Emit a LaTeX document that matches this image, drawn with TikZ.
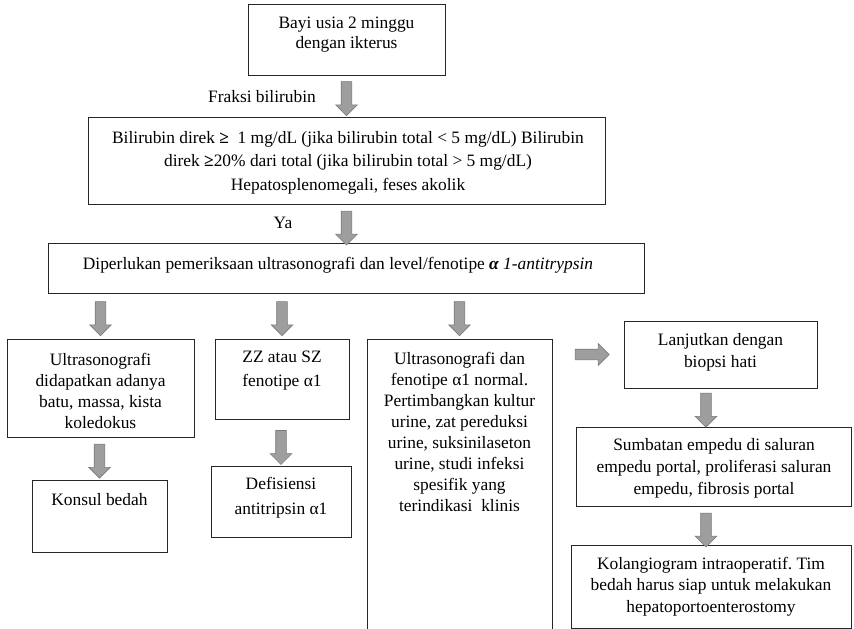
\documentclass[tikz,border=0pt]{standalone}
\usepackage{fontspec}
\setmainfont{Liberation Serif}
\usetikzlibrary{shapes.arrows,calc}

\tikzset{
  box/.style={draw=black!85, line width=0.9bp, inner sep=0pt},
  txt/.style={font=\fontsize{17.4bp}{#1}\selectfont\frenchspacing, align=center, inner sep=0pt},
  txt/.default=22bp,
  blockarrow/.style={single arrow, single arrow head extend=5.5bp,
    single arrow head indent=0pt, minimum height=34bp,
    inner sep=0pt, fill=black!38, draw=black!52, line width=0.6bp,
    sloped, allow upside down}
}
% shaft thickness of the block arrows
\newcommand{\shaft}{\rule{0pt}{10bp}}

\begin{document}
\begin{tikzpicture}[x=1bp, y=-1bp]
\useasboundingbox (0,0) rectangle (854,629);
\clip (0,0) rectangle (854,629);

% boxes
\node[box, minimum width=197bp, minimum height=71bp] (b1) at (346.5,39.5) {};
\node[box, minimum width=517bp, minimum height=87bp] (b2) at (346.5,160.5) {};
\node[box, minimum width=596bp, minimum height=50bp] (b3) at (346,268) {};
\node[box, minimum width=187bp, minimum height=98bp] (b4a) at (100.5,388) {};
\node[box, minimum width=134bp, minimum height=80bp] (bzz) at (282,379) {};
\node[box, minimum width=185bp, minimum height=300bp] (b4c) at (459.5,489) {};
\node[box, minimum width=193bp, minimum height=67bp] (b4d) at (720.5,354.5) {};
\node[box, minimum width=275bp, minimum height=79bp] (b5) at (713.5,466.5) {};
\node[box, minimum width=280bp, minimum height=83bp] (b6) at (711,586.5) {};
\node[box, minimum width=135bp, minimum height=72bp] (bk) at (99.5,516) {};
\node[box, minimum width=140bp, minimum height=71bp] (bdef) at (281,501.5) {};

% texts
\node[txt=20bp] (t1) at (346.5,35) {Bayi usia 2 minggu\\dengan ikterus};
\node[txt] (lfraksi) at (262,97) {Fraksi bilirubin};
\node[txt=23.5bp] (t2) at (348,162.5) {Bilirubin direk \textbf{≥}\ \ 1 mg/dL (jika bilirubin total < 5 mg/dL) Bilirubin\\
  direk \textbf{≥}20\% dari total (jika bilirubin total > 5 mg/dL)\\Hepatosplenomegali, feses akolik};
\node[txt] (lya) at (283,223) {Ya};
\node[txt] (t3) at (338,265) {Diperlukan pemeriksaan ultrasonografi dan level/fenotipe \textit{\textbf{α} 1-antitrypsin}};
\node[txt=21.3bp] (t4a) at (100.5,391) {Ultrasonografi\\didapatkan adanya\\batu, massa, kista\\koledokus};
\node[txt=24bp] (tzz) at (282,371) {ZZ atau SZ\\fenotipe α1};
\node[txt=21bp] (t4c) at (459.5,432) {Ultrasonografi dan\\fenotipe α1 normal.\\Pertimbangkan kultur\\urine, zat pereduksi\\urine, suksinilaseton\\urine, studi infeksi\\spesifik yang\\terindikasi\ \ klinis};
\node[txt=22bp] (t4d) at (720.5,352.5) {Lanjutkan dengan\\biopsi hati};
\node[txt=22bp] (t5) at (714,468.5) {Sumbatan empedu di saluran\\empedu portal, proliferasi saluran\\empedu, fibrosis portal};
\node[txt=21.5bp] (t6) at (711,586.5) {Kolangiogram intraoperatif. Tim\\bedah harus siap untuk melakukan\\hepatoportoenterostomy};
\node[txt] (tk) at (99.5,500) {Konsul bedah};
\node[txt=25bp] (tdef) at (281,497.5) {Defisiensi\\antitripsin α1};

% block arrows between boxes
\path (b1.south) -- (b2.north) node[blockarrow, midway] (a1) {\shaft};
\path (b2.south) -- (b2.south |- b3.north) node[blockarrow, pos=0.55] (a2) {\shaft};
\path (b3.south -| b4a.north) -- (b4a.north) node[blockarrow, midway] (a3) {\shaft};
\path (b3.south -| bzz.north) -- (bzz.north) node[blockarrow, midway] (a4) {\shaft};
\path (b3.south -| b4c.north) -- (b4c.north) node[blockarrow, midway] (a5) {\shaft};
\path (b4c.east |- b4d.west) -- (b4d.west) node[blockarrow, pos=0.52] (a6) {\shaft};
\path (b4a.south -| bk.north) -- (bk.north) node[blockarrow, midway] (a7) {\shaft};
\path (bzz.south -| bdef.north) -- (bdef.north) node[blockarrow, pos=0.55] (a8) {\shaft};
\path ([xshift=-14.5bp]b4d.south) -- ([xshift=-14.5bp]b4d.south |- b5.north) node[blockarrow, midway] (a9) {\shaft};
\path ([xshift=-14.5bp]b4d.south |- b5.south) -- ([xshift=-14.5bp]b4d.south |- b6.north) node[blockarrow, pos=0.55] (a10) {\shaft};
\end{tikzpicture}
\end{document}
